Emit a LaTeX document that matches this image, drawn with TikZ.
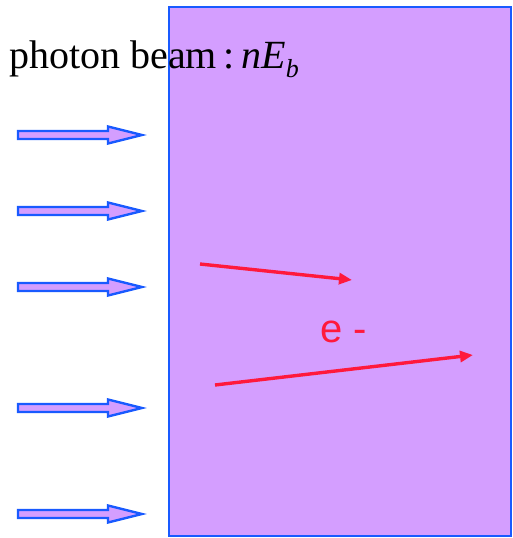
\documentclass[tikz,border=0pt]{standalone}
\usepackage{fontspec}
\setmainfont{Liberation Serif}
\setsansfont{Liberation Sans}
\usetikzlibrary{arrows.meta}
\definecolor{slabfill}{RGB}{212,158,255}
\definecolor{slabline}{RGB}{25,90,255}
\definecolor{elecred}{RGB}{255,25,60}
\begin{document}
\begin{tikzpicture}[
x=1pt, y=-1pt,
photon/.style={draw=slabline, fill=slabfill, line width=2.4pt},
electron/.style={draw=elecred, line width=3.4pt, -{Triangle[length=13pt,width=11pt]}}
]
\useasboundingbox (0,0) rectangle (512,538);
% target slab
\draw[photon] (169,7) rectangle (511,536);
\node[anchor=base west, inner sep=0pt, font=\fontsize{40}{42}\selectfont] (title) at (9,68)
  {photon beam\,:\,\textit{nE}\raisebox{-9pt}{\fontsize{26}{26}\selectfont\textit{b}}};
% incoming photons
\foreach \y in {135,211,287,408,514}
  \draw[photon] (18,\y-4) -- (108,\y-4) -- (108,\y-8.5) -- (142,\y)
    -- (108,\y+8.5) -- (108,\y+4) -- (18,\y+4) -- cycle;
% electrons
\coordinate (e1s) at (200,264);
\coordinate (e1e) at (352,280);
\coordinate (e2s) at (215,385);
\coordinate (e2e) at (473,355);
\draw[electron] (e1s) -- (e1e);
\draw[electron] (e2s) -- (e2e);
\node[text=elecred, font=\sffamily\fontsize{40}{40}\selectfont] (elabel) at (344,332) {e -};
\end{tikzpicture}
\end{document}
